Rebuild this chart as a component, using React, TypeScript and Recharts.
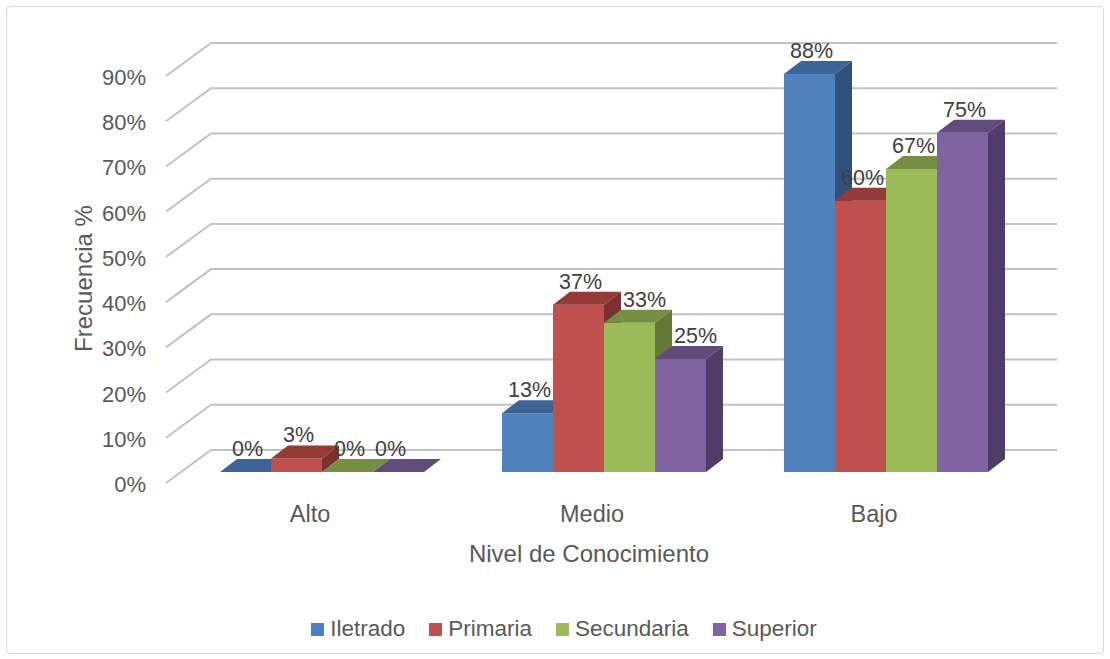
import React from 'react';
import { BarChart, Bar, XAxis, YAxis, CartesianGrid, Legend, LabelList } from 'recharts';

const categories = ['Alto', 'Medio', 'Bajo'];
const iletrado = [0, 13, 88];
const primaria = [3, 37, 60];
const secundaria = [0, 33, 67];
const superior = [0, 25, 75];
const yTicks = [0, 10, 20, 30, 40, 50, 60, 70, 80, 90];

const seriesNames = ['Iletrado', 'Primaria', 'Secundaria', 'Superior'];
const seriesValues = [iletrado, primaria, secundaria, superior];
const frontColors = ['#4F81BD', '#C0504D', '#9BBB59', '#8064A2'];
const topColors = ['#3C6596', '#943B38', '#768E42', '#624A7D'];
const sideColors = ['#30517D', '#7D302E', '#637935', '#4F3C67'];

const data = categories.map((c, i) => {
  const row: Record<string, any> = { category: c };
  seriesNames.forEach((s, k) => {
    row[s] = seriesValues[k][i];
  });
  return row;
});

const DX = 17;
const DY = 13;
const FONT = '"Liberation Sans", Arial, sans-serif';
const AXIS_COLOR = '#595959';

const makeShape = (k: number) => (props: any) => {
  const { x, y, width, height } = props;
  if (x == null || y == null) return <g />;
  const h = Math.max(0, height || 0);
  return (
    <g>
      <rect x={x} y={y} width={width} height={h} fill={frontColors[k]} />
      <polygon
        points={`${x},${y} ${x + DX},${y - DY} ${x + width + DX},${y - DY} ${x + width},${y}`}
        fill={topColors[k]}
      />
      <polygon
        points={`${x + width},${y} ${x + width + DX},${y - DY} ${x + width + DX},${y + h - DY} ${x + width},${y + h}`}
        fill={sideColors[k]}
      />
    </g>
  );
};

// label collision avoidance: nudge right when the previous bar is only slightly taller
const makeLabel = (k: number) => (props: any) => {
  const { x, y, width, value, index } = props;
  let shift = 2;
  if (k > 0 && index != null && value > 0) {
    const prev = seriesValues[k - 1][index];
    if (prev > value && prev - value < 10) shift = 15;
  }
  if (k === seriesNames.length - 1 && value === 0) shift = -8;
  return (
    <text
      x={x + width / 2 + shift}
      y={y - DY - 3}
      textAnchor="middle"
      fontSize={21.5}
      fontFamily={FONT}
      fill="#404040"
    >
      {`${value}%`}
    </text>
  );
};

const gridLine = (p: any) => {
  const { x1, x2, y1 } = p;
  return (
    <polyline
      key={`grid-${y1}`}
      points={`${x1 - 15},${y1 + 11} ${x1 + 30},${y1 - 22} ${x2 + 30},${y1 - 22}`}
      fill="none"
      stroke="#c2c2c2"
      strokeWidth={2}
    />
  );
};

const YTick = (props: any) => {
  const { x, y, payload } = props;
  return (
    <text x={x - 35} y={y + 20} textAnchor="end" fontSize={22} fontFamily={FONT} fill={AXIS_COLOR}>
      {`${payload.value}%`}
    </text>
  );
};

const XTick = (props: any) => {
  const { x, y, payload } = props;
  return (
    <text x={x - 12} y={y + 50} textAnchor="middle" fontSize={23.5} fontFamily={FONT} fill={AXIS_COLOR}>
      {payload.value}
    </text>
  );
};

const LegendContent = () => (
  <div
    style={{
      display: 'flex',
      justifyContent: 'center',
      alignItems: 'center',
      height: 30,
      width: 1110,
      paddingLeft: 18,
      boxSizing: 'border-box',
      fontFamily: FONT,
      fontSize: 22.5,
      color: AXIS_COLOR,
      lineHeight: '30px',
    }}
  >
    {seriesNames.map((s, k) => (
      <div key={s} style={{ display: 'flex', alignItems: 'center', marginRight: k < seriesNames.length - 1 ? 24 : 0 }}>
        <span style={{ display: 'inline-block', width: 13, height: 13, background: frontColors[k], marginRight: 6 }} />
        <span>{s}</span>
      </div>
    ))}
  </div>
);

export default function App() {
  return (
    <div style={{ position: 'absolute', left: 0, top: 0, width: 1110, height: 659, background: '#ffffff' }}>
      <div
        style={{
          position: 'absolute',
          left: 6,
          top: 6,
          width: 1098,
          height: 648,
          border: '1.5px solid #d9d9d9',
          borderRadius: 4,
          boxSizing: 'border-box',
        }}
      />
      <BarChart
        width={1110}
        height={659}
        data={data}
        margin={{ top: 65, right: 83, left: 61, bottom: 157 }}
        barGap={0}
        barSize={51}
        style={{ position: 'absolute', left: 0, top: 0 }}
      >
        <CartesianGrid vertical={false} horizontal={gridLine} />
        <XAxis
          dataKey="category"
          axisLine={false}
          tickLine={false}
          tickSize={0}
          tickMargin={0}
          height={30}
          tick={XTick}
          label={{
            content: (p: any) => {
              const vb = p.viewBox || { x: 181, y: 472, width: 846 };
              return (
                <text
                  x={vb.x + vb.width / 2 - 15}
                  y={vb.y + 90}
                  textAnchor="middle"
                  fontSize={24}
                  fontFamily={FONT}
                  fill={AXIS_COLOR}
                >
                  Nivel de Conocimiento
                </text>
              );
            },
          }}
        />
        <YAxis
          domain={[0, 90]}
          ticks={yTicks}
          width={120}
          axisLine={false}
          tickLine={false}
          tickSize={0}
          tickMargin={0}
          tick={YTick}
          label={{
            content: (p: any) => {
              const vb = p.viewBox || { x: 61, y: 65, width: 120, height: 407 };
              const cx = vb.x + 31;
              const cy = vb.y + vb.height / 2 + 10;
              return (
                <text
                  x={cx}
                  y={cy}
                  transform={`rotate(-90, ${cx}, ${cy})`}
                  textAnchor="middle"
                  fontSize={24}
                  fontFamily={FONT}
                  fill={AXIS_COLOR}
                >
                  Frecuencia %
                </text>
              );
            },
          }}
        />
        <Legend
          layout="horizontal"
          verticalAlign="middle"
          align="center"
          content={LegendContent}
          wrapperStyle={{ top: 614, left: 0, width: 1110, height: 30 }}
        />
        {seriesNames.map((s, k) => (
          <Bar key={s} dataKey={s} fill={frontColors[k]} shape={makeShape(k)} isAnimationActive={false}>
            <LabelList dataKey={s} content={makeLabel(k)} />
          </Bar>
        ))}
      </BarChart>
    </div>
  );
}
